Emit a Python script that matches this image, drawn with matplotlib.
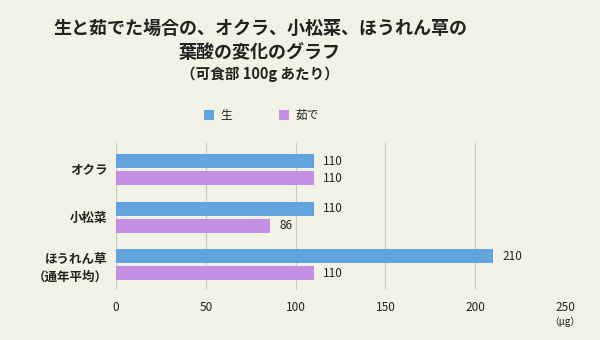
import matplotlib
matplotlib.use("Agg")
import matplotlib.pyplot as plt
from matplotlib.patches import Rectangle
import numpy as np

plt.rcParams['font.family'] = ['Noto Sans CJK JP', 'DejaVu Sans']

categories = ["オクラ", "小松菜", "ほうれん草\n（通年平均）"]
series_names = ["生", "茹で"]
raw_values = [110, 110, 210]
boiled_values = [110, 86, 110]
xticks = [0, 50, 100, 150, 200, 250]

bg = "#f2f2e7"
c_raw = "#62a5de"
c_boiled = "#c28fe5"

fig = plt.figure(figsize=(6, 3.4), dpi=100, facecolor=bg)
ax = fig.add_axes([0.1933, 0.147, 0.7484, 0.432], facecolor=bg)

y = np.arange(len(categories))
h = 0.295
off = 0.179
ax.barh(y - off, raw_values, height=h, color=c_raw, zorder=3)
ax.barh(y + off, boiled_values, height=h, color=c_boiled, zorder=3)

for yi, v in zip(y - off, raw_values):
    ax.text(v + 5, yi, str(v), va='center', ha='left', fontsize=8.5, color='#222222')
for yi, v in zip(y + off, boiled_values):
    ax.text(v + 5, yi, str(v), va='center', ha='left', fontsize=8.5, color='#222222')

ax.set_xlim(0, 250)
ax.set_ylim(2.537, -0.558)
ax.set_xticks(xticks)
ax.set_xticklabels([str(t) for t in xticks], fontsize=8.5, color='#222222')
ax.set_yticks(y)
ax.set_yticklabels(categories, fontsize=9, fontweight='bold', color='#222222', linespacing=1.5)
ax.tick_params(axis='both', length=0)
ax.tick_params(axis='x', pad=8)
ax.tick_params(axis='y', pad=6)
ax.grid(axis='x', color='#c8c8c0', linewidth=0.8, zorder=0)
for s in ax.spines.values():
    s.set_visible(False)

fig.text(565/600, 1 - 322/340, "（μg）", ha='center', va='center', fontsize=7, color='#222222')

cx = 260/600
fig.text(cx, 1 - 28/340, "生と茹でた場合の、オクラ、小松菜、ほうれん草の", ha='center', va='center',
         fontsize=13, fontweight='bold', color='#222222')
fig.text(cx, 1 - 52/340, "葉酸の変化のグラフ", ha='center', va='center',
         fontsize=13, fontweight='bold', color='#222222')
fig.text(cx, 1 - 74/340, "（可食部 100g あたり）", ha='center', va='center',
         fontsize=10.5, fontweight='bold', color='#222222')

# legend
ly = 1 - 115/340
for x0, col, name in [(204/600, c_raw, series_names[0]), (279/600, c_boiled, series_names[1])]:
    fig.patches.append(Rectangle((x0, ly - 5/340), 10/600, 10/340, transform=fig.transFigure,
                                 facecolor=col, edgecolor='none'))
    fig.text(x0 + 16/600, ly, name, ha='left', va='center', fontsize=8.5, color='#222222')

fig.savefig("out.png", dpi=100, facecolor=bg)
